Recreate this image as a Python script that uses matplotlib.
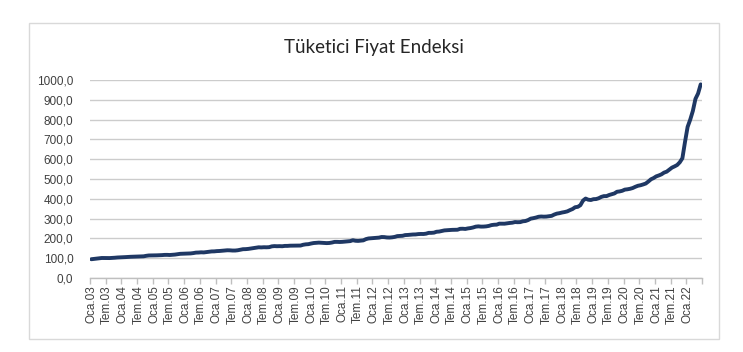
import numpy as np
import matplotlib
matplotlib.use("Agg")
import matplotlib.pyplot as plt
from matplotlib.patches import Rectangle

# TÜFE (2003=100), aylık, Ocak 2003 - Haziran 2022
tufe = [
    94.77, 96.28, 98.04, 99.52, 101.05, 100.95, 100.66, 100.67, 101.45, 102.36, 103.59, 104.15,  # 2003
    104.92, 105.49, 106.43, 107.13, 107.52, 107.66, 107.82, 108.15, 109.52, 112.05, 113.79, 113.86,  # 2004
    114.49, 114.51, 114.81, 115.62, 116.69, 116.81, 116.14, 117.13, 118.32, 120.44, 122.13, 122.65,  # 2005
    123.57, 123.84, 124.18, 125.84, 128.20, 128.64, 129.73, 129.16, 130.83, 132.49, 134.20, 134.49,  # 2006
    135.83, 136.42, 137.67, 139.34, 140.03, 139.70, 138.68, 138.71, 140.13, 142.67, 145.45, 145.77,  # 2007
    146.94, 148.84, 150.27, 152.79, 155.07, 154.51, 155.41, 155.04, 155.74, 159.79, 161.12, 160.44,  # 2008
    160.90, 160.35, 162.12, 162.15, 163.19, 163.37, 163.78, 163.29, 163.93, 167.88, 170.01, 170.91,  # 2009
    174.07, 176.59, 177.62, 178.68, 178.04, 177.04, 176.19, 176.90, 179.07, 182.35, 182.40, 181.85,  # 2010
    182.60, 183.93, 184.70, 186.31, 190.81, 188.08, 187.31, 188.67, 190.09, 196.31, 199.70, 200.85,  # 2011
    201.98, 203.09, 203.96, 207.05, 206.61, 204.76, 204.29, 205.43, 207.55, 211.61, 212.42, 213.23,  # 2012
    216.74, 217.39, 218.83, 219.75, 220.07, 221.75, 222.44, 222.21, 223.92, 227.95, 227.97, 229.01,  # 2013
    233.54, 234.54, 237.18, 240.37, 241.32, 242.07, 243.17, 243.40, 243.74, 248.37, 248.82, 247.72,  # 2014
    250.45, 252.24, 255.23, 259.39, 260.85, 259.51, 259.74, 260.79, 263.11, 267.20, 268.98, 269.54,  # 2015
    274.45, 274.40, 274.29, 276.43, 278.04, 279.33, 282.57, 281.76, 282.26, 286.33, 287.81, 292.54,  # 2016
    299.74, 302.17, 305.24, 309.23, 310.61, 309.77, 310.23, 311.85, 313.87, 320.41, 325.18, 327.41,  # 2017
    330.75, 333.17, 336.48, 342.78, 348.34, 357.42, 359.40, 367.67, 390.84, 401.25, 395.47, 393.88,  # 2018
    398.07, 398.70, 402.81, 409.62, 413.52, 413.64, 419.26, 422.87, 427.06, 435.59, 437.25, 440.50,  # 2019
    446.45, 448.01, 450.56, 454.40, 460.60, 465.80, 468.50, 472.52, 477.21, 487.38, 498.58, 504.81,  # 2020
    513.30, 517.98, 523.55, 532.32, 537.05, 547.48, 557.36, 563.60, 570.66, 584.32, 604.84, 686.95,  # 2021
    763.23, 799.93, 843.64, 904.79, 931.76, 977.90,  # 2022
]
yillar = list(range(2003, 2023))
etiket_aylari = ["Oca", "Tem"]
y_ticks = [0, 100, 200, 300, 400, 500, 600, 700, 800, 900, 1000]

plt.rcParams['font.family'] = ['Lato', 'DejaVu Sans']

x = np.arange(len(tufe))
etiketler = [f"{a}.{y % 100:02d}" for y in yillar for a in etiket_aylari]
etiket_pos = np.arange(0, len(tufe), 6)
etiketler = etiketler[:len(etiket_pos)]

fig = plt.figure(figsize=(7.43, 3.52), dpi=100)
ax = fig.add_axes([90 / 743, 74 / 352, 612 / 743, 198 / 352])

ax.plot(x, tufe, color='#1f3864', linewidth=2.8, solid_capstyle='round', zorder=3)

ax.set_xlim(-0.5, len(tufe) - 0.5)
ax.set_ylim(0, 1000)
ax.set_yticks(y_ticks)
ax.set_yticklabels([f"{v:.1f}".replace('.', ',') for v in y_ticks], family=['Liberation Sans'])
ax.grid(axis='y', color='#cccccc', linewidth=1)
ax.set_axisbelow(True)

# tick çizgileri kategori sınırlarında, etiketler kategori ortasında
ax.set_xticks(np.arange(-0.5, len(tufe) + 0.5, 6))
ax.set_xticklabels([])
ax.set_xticks(etiket_pos, minor=True)
ax.set_xticklabels(etiketler, minor=True, rotation=90, family=['Liberation Sans'])
ax.tick_params(axis='x', which='major', length=4, color='#bfbfbf', width=1, direction='out')
ax.tick_params(axis='x', which='minor', length=0, pad=5, labelsize=8.5, labelcolor='#404040')
ax.tick_params(axis='y', length=0, pad=12, labelsize=8.5, labelcolor='#404040')

for s in ['top', 'right', 'left']:
    ax.spines[s].set_visible(False)
ax.spines['bottom'].set_color('#bfbfbf')
ax.spines['bottom'].set_linewidth(1)

fig.text(374 / 743, 1 - 48 / 352, "Tüketici Fiyat Endeksi", ha='center', va='center',
         fontsize=13.5, color='#262626')

fig.patches.append(Rectangle((29 / 743, 13 / 352), 690 / 743, 316 / 352, transform=fig.transFigure,
                             fill=False, edgecolor='#d9d9d9', linewidth=1))

fig.savefig("out.png", dpi=100)
